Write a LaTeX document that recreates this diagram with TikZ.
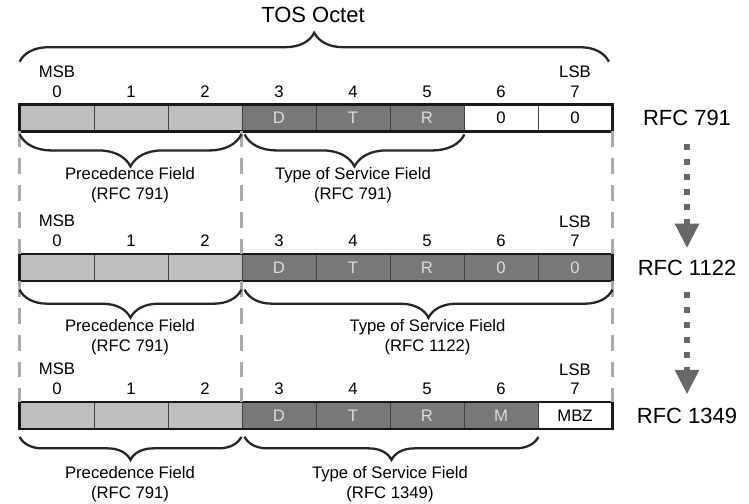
\documentclass[tikz,border=0pt]{standalone}
\usepackage{fontspec}
\setmainfont{Liberation Sans}
\usetikzlibrary{positioning,decorations.pathreplacing,arrows.meta}
\definecolor{lightcell}{HTML}{BEBEBE}
\definecolor{darkcell}{HTML}{787878}
\definecolor{darktext}{HTML}{DCDCDC}
\definecolor{guide}{HTML}{ABABAB}
\definecolor{flowgray}{HTML}{686868}
\tikzset{
  cell/.style={draw=black!75, line width=0.5pt, minimum width=1.48cm, minimum height=0.52cm,
    inner sep=0pt, font=\fontsize{9.5}{11}\selectfont},
  lt/.style={cell, fill=lightcell},
  dk/.style={cell, fill=darkcell, text=darktext},
  wt/.style={cell, fill=white},
  num/.style={inner sep=0pt, font=\fontsize{9.5}{11}\selectfont},
  fld/.style={align=center, inner sep=0pt, font=\fontsize{9.5}{11.5}\selectfont},
  rfc/.style={font=\fontsize{12.5}{14}\selectfont},
  frame/.style={draw=black!90, line width=1.4pt},
  brc/.style={decorate, decoration={brace, amplitude=#1}, line width=1.3pt, draw=black!85},
  guideline/.style={draw=guide, line width=1.7pt, dash pattern=on 9pt off 6.3pt},
  flow/.style={draw=flowgray, line width=3.4pt, dash pattern=on 3.4pt off 5.1pt,
    -{Triangle[width=13pt,length=14pt]}}
}
\begin{document}
\begin{tikzpicture}[x=0.02cm, y=-0.02cm]
\useasboundingbox (0,0) rectangle (749,503);

\foreach \s/\t [count=\i from 0] in {lt/{},lt/{},lt/{},dk/D,dk/T,dk/R,wt/0,wt/0}
  \node[\s] (a\i) at (57+74*\i,118) {\t};
\foreach \s/\t [count=\i from 0] in {lt/{},lt/{},lt/{},dk/D,dk/T,dk/R,dk/0,dk/0}
  \node[\s] (b\i) at (57+74*\i,267.5) {\t};
\foreach \s/\t [count=\i from 0] in {lt/{},lt/{},lt/{},dk/D,dk/T,dk/R,dk/M,wt/MBZ}
  \node[\s] (c\i) at (57+74*\i,415.5) {\t};

\foreach \r in {a,b,c}{
  \draw[frame] (\r0.north west) rectangle (\r7.south east);
  \foreach \i in {0,...,7}
    \node[num, above=4pt of \r\i] (n\r\i) {\i};
  \node[num, above=4pt of n\r0] (msb\r) {MSB};
  \node[num, above=4pt of n\r7] (lsb\r) {LSB};
}

\foreach \p/\q in {a/b,b/c}{
  \draw[guideline] (\p0.south west) -- (\q0.north west);
  \draw[guideline] (\p3.south west) -- (\q3.north west);
  \draw[guideline] (\p7.south east) -- (\q7.north east);
}

\node[rfc] (tos) at (313,15) {TOS Octet};
\draw[brc=0.58cm] ([yshift=24.4pt]a0.north west) -- ([xshift=-2pt,yshift=24.4pt]a7.north east);

\draw[brc=0.64cm] ([xshift=-0.6pt,yshift=-1.7pt]a2.south east) -- ([yshift=-1.7pt]a0.south west);
\draw[brc=0.64cm] ([yshift=-1.7pt]a5.south east) -- ([xshift=1.7pt,yshift=-1.7pt]a3.south west);
\draw[brc=0.56cm] ([xshift=-0.6pt,yshift=-5pt]b2.south east) -- ([yshift=-5pt]b0.south west);
\draw[brc=0.56cm] ([yshift=-5pt]b7.south east) -- ([xshift=1.7pt,yshift=-5pt]b3.south west);
\draw[brc=0.46cm] ([xshift=-0.6pt,yshift=-4.5pt]c2.south east) -- ([yshift=-4.5pt]c0.south west);
\draw[brc=0.46cm] ([yshift=-4.5pt]c6.south east) -- ([xshift=1.7pt,yshift=-4.5pt]c3.south west);

\node[fld] (preca) at (130,185) {Precedence Field\\(RFC 791)};
\node[fld] (tosa) at (353,185) {Type of Service Field\\(RFC 791)};
\node[fld] (precb) at (130,337.5) {Precedence Field\\(RFC 791)};
\node[fld] (tosb) at (427.5,337.5) {Type of Service Field\\(RFC 1122)};
\node[fld] (precc) at (130,484) {Precedence Field\\(RFC 791)};
\node[fld] (tosc) at (390,484) {Type of Service Field\\(RFC 1349)};

\node[rfc] (r791) at (687,118) {RFC 791};
\node[rfc] (r1122) at (687,267.5) {RFC 1122};
\node[rfc] (r1349) at (687,415.5) {RFC 1349};
\draw[flow, shorten <=7pt, shorten >=3pt] (r791) -- (r1122);
\draw[flow, shorten <=6pt, shorten >=4pt] (r1122) -- (r1349);
\end{tikzpicture}
\end{document}
